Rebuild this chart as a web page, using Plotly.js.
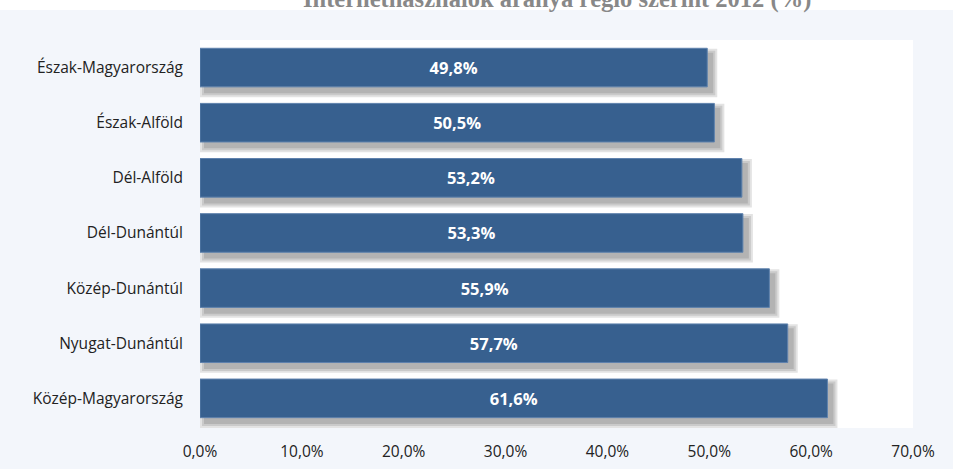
<!DOCTYPE html>
<html><head><meta charset="utf-8">
<script src="https://cdn.plot.ly/plotly-3.0.1.min.js"></script>
<style>html,body{margin:0;padding:0;background:#F3F6FB;}</style>
</head><body>
<div id="chart" style="width:953px;height:469px;"></div>
<script>
const regions = ["Észak-Magyarország","Észak-Alföld","Dél-Alföld","Dél-Dunántúl","Közép-Dunántúl","Nyugat-Dunántúl","Közép-Magyarország"];
const values = [49.8, 50.5, 53.2, 53.3, 55.9, 57.7, 61.6];
const tickValues = [0,10,20,30,40,50,60,70];
const tickLabels = tickValues.map(v => v.toFixed(1).replace('.', ',') + '%');
const titleText = "Internethasználók aránya régió szerint 2012 (%)";

// soft drop shadow layers (pixel offsets converted to axis units)
const pxX = 713/70, pxY = 388/7;
const shadows = [5, 3, 1].map(e => ({
  type:'bar', orientation:'h', y:regions,
  x: values.map(v => v + (2*e)/pxX),
  base: (5 - e)/pxX,
  offset: (-14 - e)/pxY, width: (38.8 + 2*e)/pxY,
  marker:{color:'rgba(0,0,0,0.11)', line:{width:0}}, hoverinfo:'skip', showlegend:false
}));

const main = {type:'bar', orientation:'h', y:regions, x:values, offset:-0.35, width:0.7,
  marker:{color:'#37608F', line:{width:1, color:'#5F82AD'}},
  texttemplate:'%{x:.1f}%', textposition:'inside', insidetextanchor:'middle',
  textfont:{family:'Open Sans, Liberation Sans, sans-serif', size:16.5, color:'#ffffff', weight:'bold'},
  showlegend:false};

const H = 388;
const layout = {
  width:953, height:469,
  paper_bgcolor:'#F3F6FB', plot_bgcolor:'#ffffff',
  margin:{l:200, r:40, t:40, b:41},
  barmode:'overlay',
  separators:',.',
  xaxis:{range:[0,70], tickmode:'array', tickvals:tickValues, ticktext:tickLabels,
    showgrid:false, zeroline:false, showline:false, ticks:'', ticklabelstandoff:12,
    tickfont:{family:'Open Sans, Liberation Sans, sans-serif', size:15.5, color:'#222222'}, fixedrange:true},
  yaxis:{type:'category', autorange:'reversed', showgrid:false, zeroline:false, showline:false, ticks:'',
    ticklabelstandoff:16,
    tickfont:{family:'Open Sans, Liberation Sans, sans-serif', size:15.5, color:'#222222'}},
  shapes:[{type:'rect', xref:'paper', yref:'paper', x0:-0.5, x1:1.5, y0:1+30/H, y1:1+45/H,
    fillcolor:'#ffffff', line:{width:0}, layer:'above'}],
  annotations:[{text:'<b>'+titleText+'</b>', xref:'paper', yref:'paper', x:0.5, y:1+25/H, yanchor:'bottom',
    showarrow:false, font:{family:'Liberation Serif, DejaVu Serif, serif', size:24.5, color:'#888888'}}]
};
Plotly.newPlot('chart',[...shadows, main],layout,{displayModeBar:false, staticPlot:true});
</script>
</body></html>
